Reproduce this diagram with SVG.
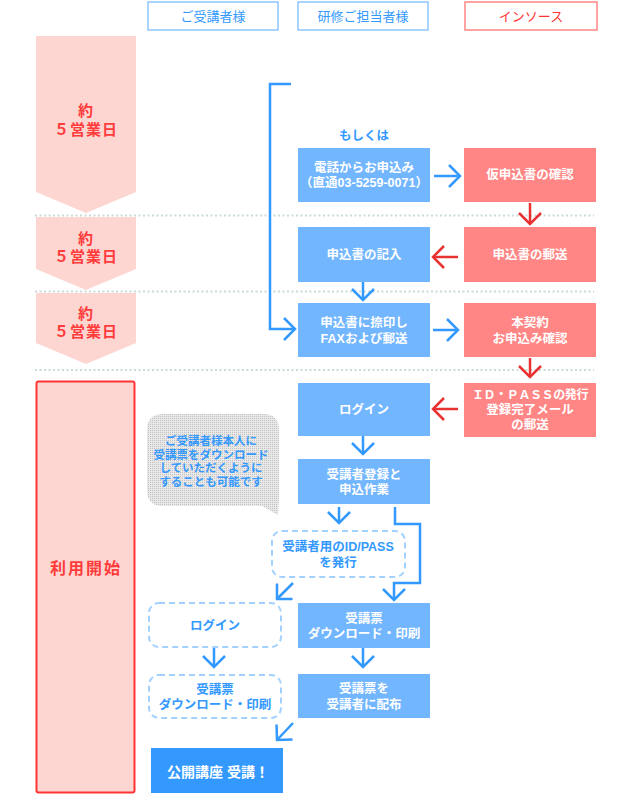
<svg xmlns="http://www.w3.org/2000/svg" width="627" height="800" viewBox="0 0 627 800">
<style>
text{font-family:"Liberation Sans","Noto Sans CJK JP",sans-serif;text-anchor:middle;dominant-baseline:central;font-weight:bold}
.hdr{fill:#fff;stroke-width:1.5}
.hb{stroke:#8cc6ff}
.hr{stroke:#ff8585}
.ht{font-size:13px;font-weight:normal;fill:#3399ff}
.htr{font-size:13px;font-weight:normal;fill:#ff3333}
.stage{fill:#fdd6d1}
.st{font-size:15px;fill:#ff3b3b;letter-spacing:1px}
.bb{fill:#72b6ff}
.rb{fill:#ff8684}
.wt{font-size:12.5px;fill:#fff}
.dash{fill:#fff;stroke:#a3d1ff;stroke-width:2;stroke-dasharray:6 4}
.bt{font-size:12.5px;fill:#3399ff}
.sep{stroke:#c9dcd9;stroke-width:2;stroke-dasharray:2 2.5;fill:none}
.cb{fill:none;stroke:#3399ff;stroke-width:2.5;marker-end:url(#ab)}
.cr{fill:none;stroke:#e83232;stroke-width:2.5;marker-end:url(#ar)}
</style>
<defs>
<marker id="ab" viewBox="0 0 14 24" refX="12" refY="12" markerWidth="14" markerHeight="24" markerUnits="userSpaceOnUse" orient="auto">
<path d="M1,1 L12,12 L1,23" fill="none" stroke="#3399ff" stroke-width="2.5"/>
</marker>
<marker id="ar" viewBox="0 0 14 24" refX="12" refY="12" markerWidth="14" markerHeight="24" markerUnits="userSpaceOnUse" orient="auto">
<path d="M1,1 L12,12 L1,23" fill="none" stroke="#e83232" stroke-width="2.5"/>
</marker>
<pattern id="dots" width="2" height="2" patternUnits="userSpaceOnUse">
<rect width="2" height="2" fill="#e8e8e8"/>
<rect width="1" height="1" fill="#c2c2c2"/>
</pattern>
</defs>

<g id="headers">
<g id="h-trainee"><rect class="hdr hb" x="148" y="2" width="130" height="28"/><text class="ht" x="213" y="16">ご受講者様</text></g>
<g id="h-manager"><rect class="hdr hb" x="298" y="2" width="130" height="28"/><text class="ht" x="363" y="16">研修ご担当者様</text></g>
<g id="h-insource"><rect class="hdr hr" x="465" y="2" width="132" height="28"/><text class="htr" x="531" y="16">インソース</text></g>
</g>

<g id="separators">
<line class="sep" x1="35" y1="215.5" x2="594" y2="215.5"/>
<line class="sep" x1="35" y1="291.5" x2="594" y2="291.5"/>
<line class="sep" x1="35" y1="370" x2="594" y2="370"/>
</g>

<g id="stage1"><path class="stage" d="M36,36 H136 V192 L86,213 L36,192 Z"/><text class="st" x="86" y="110">約</text><text class="st" x="86" y="129">５営業日</text></g>
<g id="stage2"><path class="stage" d="M36,217 H136 V269 L86,290 L36,269 Z"/><text class="st" x="86" y="238">約</text><text class="st" x="86" y="256">５営業日</text></g>
<g id="stage3"><path class="stage" d="M36,293 H136 V343 L86,364 L36,343 Z"/><text class="st" x="86" y="313">約</text><text class="st" x="86" y="331">５営業日</text></g>
<g id="stage4"><rect x="36.5" y="381.5" width="98" height="411" rx="2" fill="#fdd6d1" stroke="#ff3333" stroke-width="2"/><text class="st" x="86" y="568" style="font-size:16px;letter-spacing:2px">利用開始</text></g>

<g id="or-label"><text x="364" y="136" style="font-size:12.5px;fill:#3399ff">もしくは</text></g>

<g id="n-phone"><rect class="bb" x="298" y="148" width="132" height="54"/><text class="wt" x="364" y="168">電話からお申込み</text><text class="wt" x="364" y="183">（直通03-5259-0071）</text></g>
<g id="n-provisional"><rect class="rb" x="464" y="148" width="132" height="54"/><text class="wt" x="530" y="175">仮申込書の確認</text></g>
<g id="n-fill"><rect class="bb" x="298" y="227" width="132" height="55"/><text class="wt" x="364" y="255">申込書の記入</text></g>
<g id="n-mail"><rect class="rb" x="464" y="227" width="132" height="55"/><text class="wt" x="530" y="255">申込書の郵送</text></g>
<g id="n-fax"><rect class="bb" x="298" y="303" width="132" height="54"/><text class="wt" x="364" y="323">申込書に捺印し</text><text class="wt" x="364" y="339">FAXおよび郵送</text></g>
<g id="n-confirm"><rect class="rb" x="464" y="303" width="132" height="54"/><text class="wt" x="530" y="323">本契約</text><text class="wt" x="530" y="339">お申込み確認</text></g>
<g id="n-login"><rect class="bb" x="298" y="383" width="132" height="53"/><text class="wt" x="364" y="410">ログイン</text></g>
<g id="n-idpass"><rect class="rb" x="464" y="383" width="132" height="54"/><text class="wt" x="530" y="395" style="font-size:12px;letter-spacing:-0.4px">ＩＤ・ＰＡＳＳの発行</text><text class="wt" x="530" y="410">登録完了メール</text><text class="wt" x="530" y="425">の郵送</text></g>
<g id="n-register"><rect class="bb" x="298" y="459" width="132" height="45"/><text class="wt" x="364" y="475">受講者登録と</text><text class="wt" x="364" y="490">申込作業</text></g>

<g id="n-bubble"><path d="M163,414 H263 Q279,414 279,430 V498 L278,515 L262,506 H163 Q147,506 147,490 V430 Q147,414 163,414 Z" fill="url(#dots)"/>
<text x="211" y="441" style="font-size:11.5px;fill:#3399ff">ご受講者様本人に</text>
<text x="211" y="455" style="font-size:11.5px;fill:#3399ff">受講票をダウンロード</text>
<text x="211" y="468" style="font-size:11.5px;fill:#3399ff">していただくように</text>
<text x="211" y="482" style="font-size:11.5px;fill:#3399ff">することも可能です</text></g>

<g id="n-issue"><rect class="dash" x="272" y="531" width="133" height="46" rx="10"/><text class="bt" x="338" y="547">受講者用のID/PASS</text><text class="bt" x="338" y="563">を発行</text></g>
<g id="n-login2"><rect class="dash" x="149" y="603" width="132" height="44" rx="10"/><text class="bt" x="215" y="626">ログイン</text></g>
<g id="n-download"><rect class="bb" x="298" y="603" width="132" height="45"/><text class="wt" x="364" y="619">受講票</text><text class="wt" x="364" y="634">ダウンロード・印刷</text></g>
<g id="n-download2"><rect class="dash" x="149" y="675" width="132" height="43" rx="10"/><text class="bt" x="215" y="690">受講票</text><text class="bt" x="215" y="705">ダウンロード・印刷</text></g>
<g id="n-distribute"><rect class="bb" x="298" y="674" width="132" height="44"/><text class="wt" x="364" y="689">受講票を</text><text class="wt" x="364" y="705">受講者に配布</text></g>
<g id="n-attend"><rect x="151" y="748" width="132" height="45" fill="#3399ff"/><text x="218" y="772" style="font-size:14px;fill:#fff">公開講座 受講！</text></g>

<g id="connectors">
<path class="cb" d="M291,84 H270 V329 H295"/>
<path class="cb" d="M434,176 H460"/>
<path class="cb" d="M363,282 V300"/>
<path class="cb" d="M433,330 H458"/>
<path class="cb" d="M363,436 V454"/>
<path class="cb" d="M339,507 V523"/>
<path class="cb" d="M395,507 V524 H420 V583 H394 V600"/>
<path class="cb" d="M293,583 L277,599"/>
<path class="cb" d="M363,648 V667"/>
<path class="cb" d="M214,648 V667"/>
<path class="cb" d="M293,723 L277,740"/>
<path class="cr" d="M530,203 V224"/>
<path class="cr" d="M458,257 H433"/>
<path class="cr" d="M530,358 V377"/>
<path class="cr" d="M458,409 H433"/>
</g>
</svg>
